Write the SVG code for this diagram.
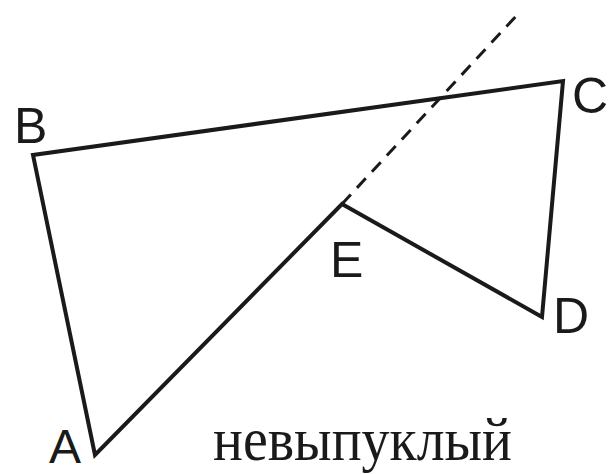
<svg xmlns="http://www.w3.org/2000/svg" width="611" height="474" viewBox="0 0 611 474">
<style>
.edge{fill:none;stroke:#1a1a1a;stroke-width:4;stroke-linejoin:miter;stroke-linecap:round}
.dash{fill:none;stroke:#1a1a1a;stroke-width:3;stroke-dasharray:13 9}
.lbl{font-family:"Liberation Sans",Arial,sans-serif;font-size:50px;fill:#1a1a1a}
.cap{font-family:"Liberation Serif","Times New Roman",serif;font-size:62px;fill:#1a1a1a}
</style>
<rect width="611" height="474" fill="#ffffff"/>
<g id="connectors">
<polygon class="edge" points="95,455 33,155 563,81 542,317 342,204"/>
<line class="dash" x1="342" y1="204" x2="518" y2="14"/>
</g>
<g id="A"><text class="lbl" x="49" y="463" style="font-size:48px">A</text></g>
<g id="B"><text class="lbl" x="14" y="143">B</text></g>
<g id="C"><text class="lbl" x="572" y="113">C</text></g>
<g id="D"><text class="lbl" x="553" y="333">D</text></g>
<g id="E"><text class="lbl" x="330" y="277">E</text></g>
<g id="caption"><text class="cap" x="213" y="460" textLength="299" lengthAdjust="spacingAndGlyphs">невыпуклый</text></g>
</svg>
